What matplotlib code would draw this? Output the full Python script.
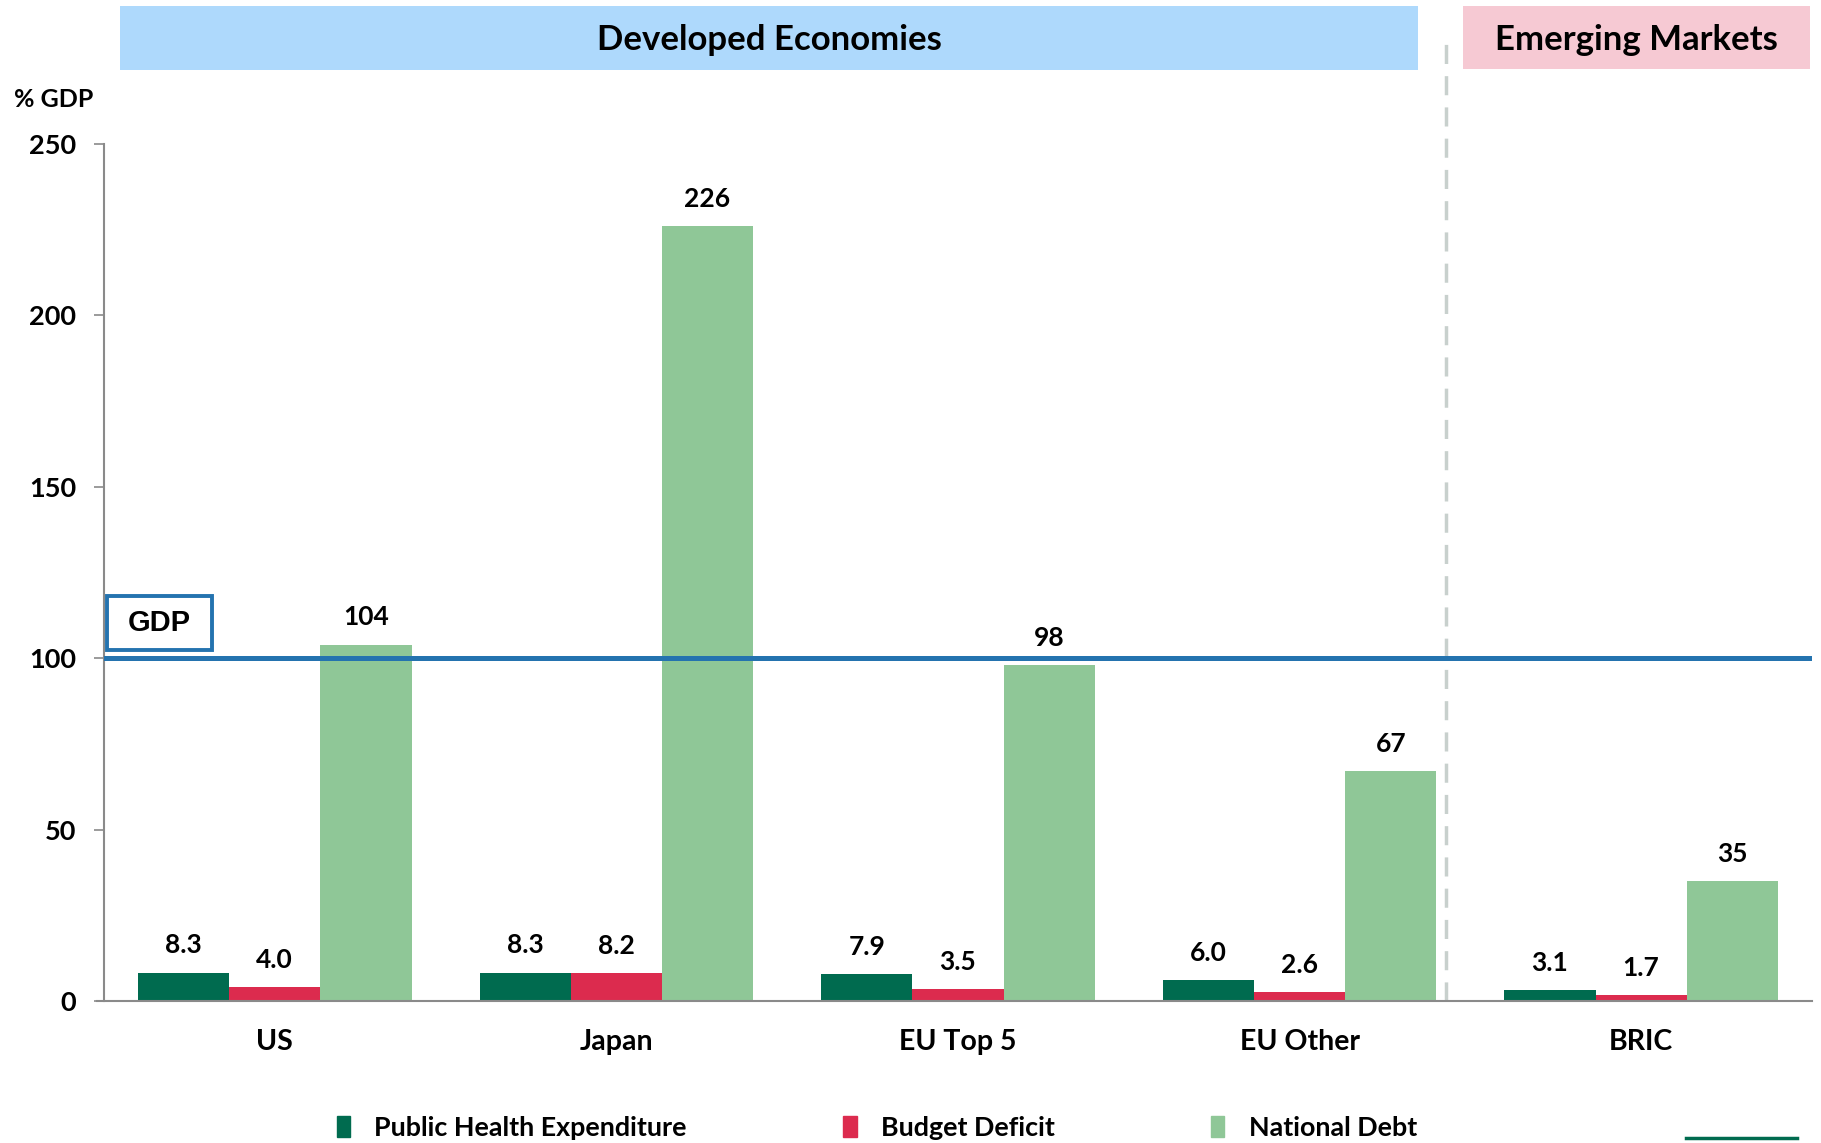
import matplotlib
matplotlib.use("Agg")
import matplotlib.pyplot as plt
import numpy as np
from matplotlib.patches import Patch, Rectangle
from matplotlib.lines import Line2D
import matplotlib.transforms as mtransforms

plt.rcParams['font.family'] = ['Lato', 'DejaVu Sans']
plt.rcParams['font.weight'] = 'bold'

regions = ['US', 'Japan', 'EU Top 5', 'EU Other', 'BRIC']
health = [8.3, 8.3, 7.9, 6.0, 3.1]
deficit = [4.0, 8.2, 3.5, 2.6, 1.7]
debt = [104, 226, 98, 67, 35]
series_names = ['Public Health Expenditure', 'Budget Deficit', 'National Debt']
gdp_level = 100

c_health = '#006B4F'
c_deficit = '#DC2B4E'
c_debt = '#8FC797'

fig = plt.figure(figsize=(18.21, 11.43), dpi=100)
ax = fig.add_axes([0.0571, 0.1242, 0.9379, 0.7498])

x = np.arange(len(regions))
w = 0.267
bars_h = ax.bar(x - w, health, w, color=c_health, zorder=2)
bars_d = ax.bar(x, deficit, w, color=c_deficit, zorder=2)
bars_n = ax.bar(x + w, debt, w, color=c_debt, zorder=2)

for bars, vals, fmt in [(bars_h, health, '{:.1f}'), (bars_d, deficit, '{:.1f}'), (bars_n, debt, '{:d}')]:
    for b, v in zip(bars, vals):
        ax.annotate(fmt.format(v), (b.get_x() + b.get_width() / 2, v),
                    xytext=(0, 11), textcoords='offset points',
                    ha='center', va='bottom', fontsize=19, fontweight='bold')

# GDP reference line and its tag
ax.axhline(gdp_level, color='#2473AF', lw=3.6, zorder=3)
ax.add_patch(Rectangle((-0.49, 102.5), 0.305, 15.7, fc='white', ec='#2473AF',
                       lw=2.8, zorder=4, clip_on=False))
ax.text(-0.3375, 110.3, 'GDP', fontsize=21, fontweight='bold',
        family=['Liberation Sans', 'DejaVu Sans'], ha='center', va='center',
        zorder=5)

ax.set_xlim(-0.5, 4.5)
ax.set_ylim(0, 250)
ax.set_yticks(range(0, 251, 50))
ax.set_xticks(x)
ax.set_xticklabels(regions, fontsize=20.5, fontweight='bold')
ax.tick_params(axis='x', length=0, pad=20)
ax.tick_params(axis='y', length=7, width=1.2, color='#8A8A8A', pad=13, labelsize=19.5)
for lab in ax.get_yticklabels():
    lab.set_fontweight('bold')
for s in ['top', 'right']:
    ax.spines[s].set_visible(False)
for s in ['left', 'bottom']:
    ax.spines[s].set_color('#8A8A8A')
    ax.spines[s].set_linewidth(1.5)
ax.spines['bottom'].set_bounds(-0.52, 4.5)

# group headers and divider
trans = mtransforms.blended_transform_factory(ax.transData, ax.transAxes)
ax.add_patch(Rectangle((-0.452, 1.086), 3.799, 0.075, transform=trans,
                       fc='#AED9FC', ec='none', clip_on=False))
ax.add_patch(Rectangle((3.48, 1.087), 1.014, 0.074, transform=trans,
                       fc='#F6C9D3', ec='none', clip_on=False))
ax.text(1.447, 1.121, 'Developed Economies', transform=trans, ha='center',
        va='center', fontsize=25, fontweight='bold')
ax.text(3.987, 1.121, 'Emerging Markets', transform=trans, ha='center',
        va='center', fontsize=25, fontweight='bold')
ax.plot([3.43, 3.43], [0, 1.12], transform=trans, color='#C8D0CD', lw=2.5,
        ls=(0, (5.5, 3.5)), clip_on=False, zorder=1)

fig.text(0.0077, 0.913, '% GDP', fontsize=18, fontweight='bold', va='center')

handles = [Patch(color=c) for c in (c_health, c_deficit, c_debt)]
fig.legend(handles, series_names, loc='center', bbox_to_anchor=(0.4815, 0.0135),
           ncol=3, frameon=False, handlelength=0.5, handleheight=0.8,
           handletextpad=0.9, columnspacing=5.8,
           prop={'weight': 'bold', 'size': 19.4})

fig.add_artist(Line2D([0.926, 0.987], [0.004, 0.004], transform=fig.transFigure,
                      color=c_health, lw=2.5))

fig.savefig('out.png', dpi=100)
